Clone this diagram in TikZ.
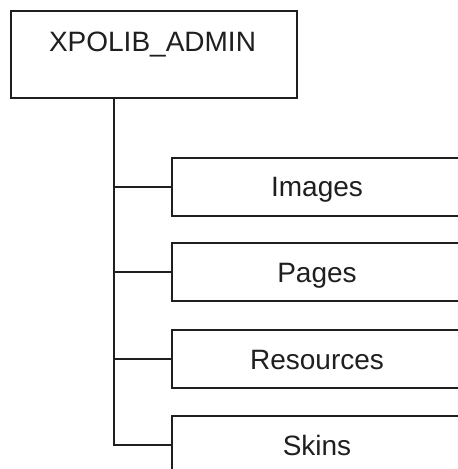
\documentclass[tikz,border=0pt]{standalone}
\usepackage{fontspec}
\setmainfont{Liberation Sans}
\begin{document}
\begin{tikzpicture}[x=1bp,y=-1bp,
  ln/.style={line width=2.4bp, color=black!88},
  box/.style={ln, draw, rectangle, inner sep=0pt},
  lbl/.style={font=\fontsize{28bp}{30bp}\selectfont, text=black!88, inner sep=0pt, text height=20bp, text depth=0pt},
  child/.style={box, minimum width=290bp, minimum height=58bp, lbl}]
\useasboundingbox (0,0) rectangle (458,469);
\fill[white] (0,0) rectangle (458,469);
\clip (0,0) rectangle (458,469);
\node[box, minimum width=286bp, minimum height=87bp] (top) at (154,54.5) {};
\node[lbl] (toptext) at (152.5,42) {XPOLIB\_ADMIN};
\node[child] (images) at (317,187) {Images};
\node[child] (pages) at (317,272) {Pages};
\node[child] (resources) at (317,359) {Resources};
\node[child] (skins) at (317,445) {Skins};
\coordinate (tb) at ([xshift=104bp]top.south west);
\draw[ln] (tb) |- (skins.west);
\draw[ln] (tb |- images.west) -- (images.west);
\draw[ln] (tb |- pages.west) -- (pages.west);
\draw[ln] (tb |- resources.west) -- (resources.west);
\end{tikzpicture}
\end{document}
